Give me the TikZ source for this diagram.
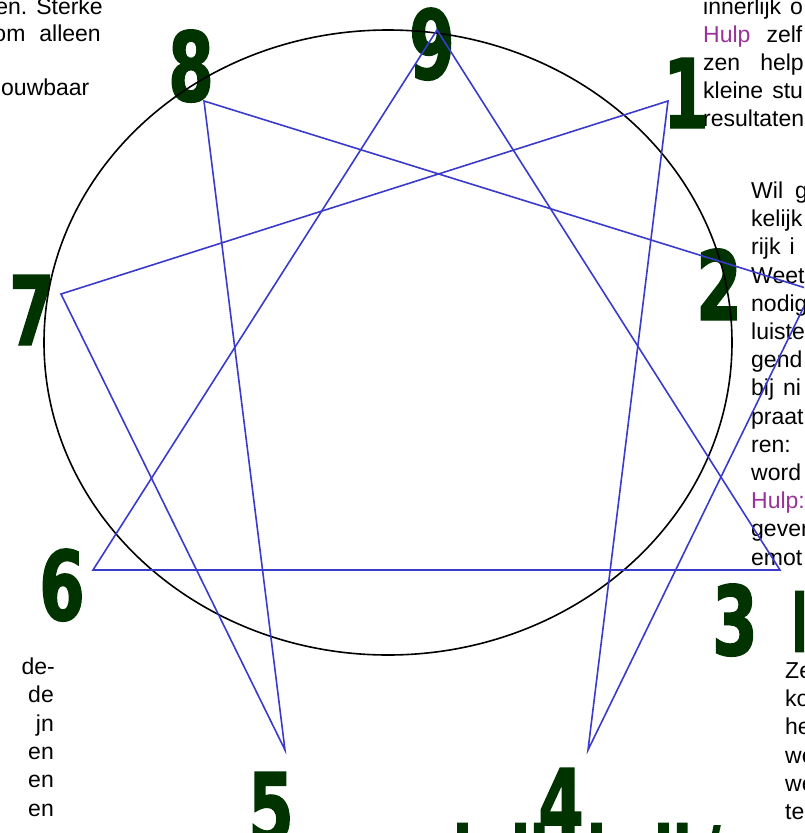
\documentclass[tikz,border=0pt]{standalone}
\usepackage{fontspec}
\setmainfont{Liberation Sans}
\newfontfamily\digfont[FakeStretch=0.68,FakeBold=1.5]{DejaVu Sans}
\definecolor{dgreen}{HTML}{003300}
\definecolor{eblue}{HTML}{3A3ACC}
\definecolor{hulp}{HTML}{993399}
\begin{document}
\begin{tikzpicture}[x=1pt,y=-1pt,
  txt/.style={anchor=base west, inner sep=0pt, font=\fontsize{23}{28}\selectfont},
  txtr/.style={anchor=base east, inner sep=0pt, font=\fontsize{23}{28}\selectfont},
  digit/.style={anchor=base, inner sep=0pt, text=dgreen, font=\digfont\bfseries\fontsize{96}{96}\selectfont},
  head/.style={anchor=base west, inner sep=0pt, text=dgreen, font=\digfont\bfseries\fontsize{80}{80}\selectfont},
  starline/.style={draw=eblue, line width=1.6pt, line join=miter},
  ring/.style={draw=black, line width=1.6pt}]
\useasboundingbox (0,0) rectangle (804,833);
\clip (0,0) rectangle (804,833);

% ---- text fragments ----
\node[txtr] (tl1) at (103,14) {den.\hspace{9pt}Sterke};
\node[txtr] (tl2) at (101,41) {om\hspace{14pt}alleen};
\node[txt]  (tl3) at (1,95) {ouwbaar};

\node[txt] (tr1) at (703,14) {innerlijk\hspace{9pt}o};
\node[txt] (tr2) at (703,42) {\textcolor{hulp}{Hulp}\hspace{16pt}zelf};
\node[txt] (tr3) at (703,70) {zen\hspace{20pt}help};
\node[txt] (tr4) at (703,98) {kleine\hspace{9pt}stu};
\node[txt] (tr5) at (703,126) {resultaten};

\node[txt] (r1)  at (751,198) {Wil\hspace{12pt}g};
\node[txt] (r2)  at (751,226) {kelijk};
\node[txt] (r3)  at (751,254) {rijk\hspace{9pt}i};
\node[txt] (r4)  at (751,283) {Weet};
\node[txt] (r5)  at (751,311) {nodig};
\node[txt] (r6)  at (751,339) {luiste};
\node[txt] (r7)  at (751,367) {gend};
\node[txt] (r8)  at (751,395) {bij\hspace{9pt}ni};
\node[txt] (r9)  at (751,424) {praat};
\node[txt] (r10) at (751,452) {ren:};
\node[txt] (r11) at (751,480) {word};
\node[txt] (r12) at (751,508) {\textcolor{hulp}{Hulp:}};
\node[txt] (r13) at (751,536) {gever};
\node[txt] (r14) at (751,565) {emot};

\node[txtr] (bl1) at (55,674) {de-};
\node[txtr] (bl2) at (54,702) {de};
\node[txtr] (bl3) at (54,731) {jn};
\node[txtr] (bl4) at (54,759) {en};
\node[txtr] (bl5) at (54,787) {en};
\node[txtr] (bl6) at (54,816) {en};

\node[txt] (br1) at (785,678) {Ze};
\node[txt] (br2) at (785,706) {ko};
\node[txt] (br3) at (785,734) {he};
\node[txt] (br4) at (785,763) {we};
\node[txt] (br5) at (785,791) {we};
\node[txt] (br6) at (785,819) {te};

% ---- green heading fragments ----
\node[head] (hp) at (791,635) {p};
\node[head] (hb1) at (453,884) {i};
\node[head] (hb2) at (511,884) {ll};
\node[head] (hb3) at (587,884) {l};
\node[head] (hb4) at (654,884) {ll};
\node[head] (hb5) at (700,884) {/};

% ---- digits ----
\node[digit] (d9) at (432,79) {9};
\node[digit] (d8) at (191,101) {8};
\node[digit] (d1) at (686,128) {1};
\node[digit] (d7) at (32,345) {7};
\node[digit] (d2) at (719,320) {2};
\node[digit] (d6) at (62,620) {6};
\node[digit] (d3) at (735,655) {3};
\node[digit] (d5) at (271,842) {5};
\node[digit] (d4) at (561,838) {4};

% ---- circle ----
\draw[ring] (388,342.5) ellipse [x radius=344, y radius=312.5];

% ---- enneagram vertices ----
\coordinate (p9) at (437,30);
\coordinate (p8) at (204,101);
\coordinate (p1) at (668,101);
\coordinate (p7) at (61,294);
\coordinate (p2) at (812,290);
\coordinate (p6) at (93,570);
\coordinate (p3) at (780,570);
\coordinate (p5) at (285,750);
\coordinate (p4) at (588,750);

\draw[starline] (p9) -- (p3) -- (p6) -- cycle;
\draw[starline] (p1) -- (p4) -- (p2) -- (p8) -- (p5) -- (p7) -- cycle;
\end{tikzpicture}
\end{document}
